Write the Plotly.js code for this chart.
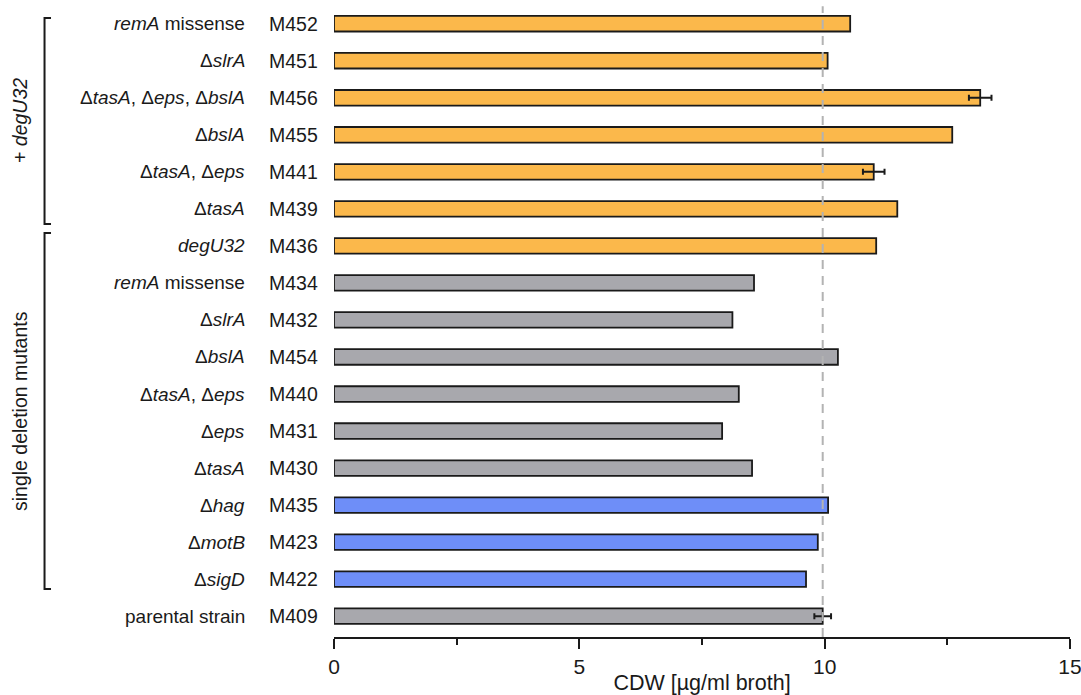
<!DOCTYPE html>
<html>
<head>
<meta charset="utf-8">
<script src="https://cdn.plot.ly/plotly-3.0.1.min.js"></script>
<style>
  html, body { margin: 0; padding: 0; background: #ffffff; }
  #chart { width: 1081px; height: 695px; }
</style>
</head>
<body>
<div id="chart"></div>
<script>
// Strains, listed bottom to top
const strains = ['M409', 'M422', 'M423', 'M435', 'M430', 'M431', 'M440', 'M454',
                 'M432', 'M434', 'M436', 'M439', 'M441', 'M455', 'M456', 'M451', 'M452'];

// Genotype of each strain
const genotypes = [
  'parental strain',
  'Δ<i>sigD</i>',
  'Δ<i>motB</i>',
  'Δ<i>hag</i>',
  'Δ<i>tasA</i>',
  'Δ<i>eps</i>',
  'Δ<i>tasA</i>, Δ<i>eps</i>',
  'Δ<i>bslA</i>',
  'Δ<i>slrA</i>',
  '<i>remA</i> missense',
  '<i>degU32</i>',
  'Δ<i>tasA</i>',
  'Δ<i>tasA</i>, Δ<i>eps</i>',
  'Δ<i>bslA</i>',
  'Δ<i>tasA</i>, Δ<i>eps</i>, Δ<i>bslA</i>',
  'Δ<i>slrA</i>',
  '<i>remA</i> missense'
];

// Cell dry weight, µg/ml broth
const cdw = [9.96, 9.62, 9.86, 10.07, 8.52, 7.91, 8.25, 10.27,
             8.12, 8.56, 11.05, 11.48, 11.00, 12.60, 13.17, 10.06, 10.52];

// Standard deviation where measured (NaN = none shown)
const cdwErr = [0.17, NaN, NaN, NaN, NaN, NaN, NaN, NaN,
                NaN, NaN, NaN, NaN, 0.22, NaN, 0.23, NaN, NaN];

// Strain class: reference / motility mutant / matrix mutant / degU32 background
const strainClass = ['ref', 'motility', 'motility', 'motility', 'matrix', 'matrix', 'matrix', 'matrix',
                     'matrix', 'matrix', 'degU', 'degU', 'degU', 'degU', 'degU', 'degU', 'degU'];

// Axis ticks
const xTicks = [0, 5, 10, 15];
const xTickText = ['0', '5', '10', '15'];

const classColor = { ref: '#a8a8ad', matrix: '#a8a8ad', motility: '#6e8ef8', degU: '#fbb84b' };

const FONT = '"Liberation Sans", Arial, Helvetica, sans-serif';
const INK = '#1a1a1a';

const bars = {
  type: 'bar',
  orientation: 'h',
  y: strains,
  x: cdw,
  width: 0.42,
  marker: {
    color: strainClass.map(c => classColor[c]),
    line: { color: INK, width: 1.8 }
  },
  error_x: {
    type: 'data',
    array: cdwErr,
    visible: true,
    color: INK,
    thickness: 2,
    width: 3
  },
  hoverinfo: 'x+y'
};

// Genotype and strain labels left of the bars
const annotations = [];
strains.forEach((s, i) => {
  annotations.push({
    xref: 'paper', yref: 'y', x: -0.1182, y: s,
    xanchor: 'right', yanchor: 'middle',
    text: genotypes[i], showarrow: false,
    font: { family: FONT, size: 19, color: INK }
  });
  annotations.push({
    xref: 'paper', yref: 'y', x: -0.0915, y: s,
    xanchor: 'left', yanchor: 'middle',
    text: s, showarrow: false,
    font: { family: FONT, size: 19.5, color: INK }
  });
});

// Group brackets (paper coordinates) and their captions
const groups = [
  { label: '+ <i>degU32</i>', top: 0.9794, bottom: 0.6535 },
  { label: 'single deletion mutants', top: 0.6392, bottom: 0.0759 }
];
const bx = -0.3933, bxEnd = -0.3845;
const shapes = [];
groups.forEach(g => {
  shapes.push({
    type: 'path', xref: 'paper', yref: 'paper',
    path: `M ${bxEnd} ${g.top} L ${bx} ${g.top} L ${bx} ${g.bottom} L ${bxEnd} ${g.bottom}`,
    line: { color: INK, width: 2 }
  });
  annotations.push({
    xref: 'paper', yref: 'paper', x: -0.4266, y: (g.top + g.bottom) / 2,
    xanchor: 'center', yanchor: 'middle', textangle: -90,
    text: g.label, showarrow: false,
    font: { family: FONT, size: 19.5, color: INK }
  });
});

// Reference line at the parental strain level
shapes.push({
  type: 'line', xref: 'x', yref: 'paper',
  x0: cdw[0], x1: cdw[0], y0: 0, y1: 0.998,
  line: { color: '#b3b3b3', width: 2, dash: '9px,7px' },
  layer: 'above'
});

const layout = {
  width: 1081,
  height: 695,
  margin: { l: 334, r: 11, t: 5, b: 58 },
  paper_bgcolor: '#ffffff',
  plot_bgcolor: '#ffffff',
  showlegend: false,
  font: { family: FONT, color: INK },
  xaxis: {
    range: [0, 15],
    tickvals: xTicks,
    ticktext: xTickText,
    ticks: 'outside',
    ticklen: 10,
    tickwidth: 1.8,
    tickcolor: INK,
    ticklabeloverflow: 'allow',
    minor: { dtick: 2.5, tick0: 0, ticks: 'outside', ticklen: 6, tickwidth: 1.8, tickcolor: INK, showgrid: false },
    showline: true,
    linecolor: INK,
    linewidth: 1.8,
    showgrid: false,
    zeroline: false,
    tickfont: { family: FONT, size: 21, color: INK },
    title: { text: 'CDW [µg/ml broth]', font: { family: FONT, size: 21.5, color: INK }, standoff: 2 },
    fixedrange: true
  },
  yaxis: {
    type: 'category',
    categoryorder: 'array',
    categoryarray: strains,
    range: [-0.562, 16.505],
    showticklabels: false,
    ticks: '',
    showline: false,
    showgrid: false,
    zeroline: false,
    fixedrange: true
  },
  shapes: shapes,
  annotations: annotations
};

Plotly.newPlot('chart', [bars], layout, { displayModeBar: false, staticPlot: true });
</script>
</body>
</html>
